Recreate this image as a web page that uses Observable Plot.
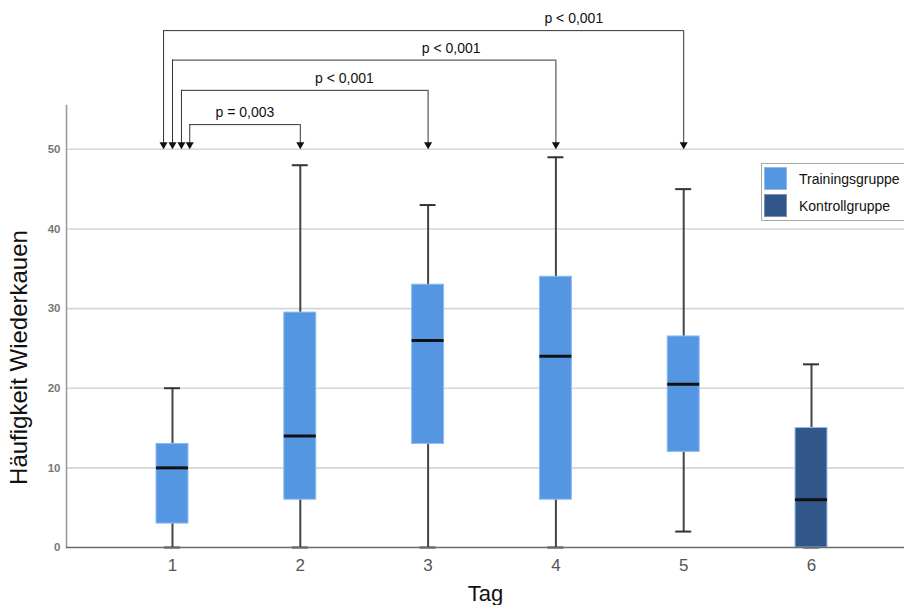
<!DOCTYPE html>
<html><head><meta charset="utf-8">
<script src="https://cdn.jsdelivr.net/npm/d3@7"></script>
<script src="https://cdn.jsdelivr.net/npm/@observablehq/plot@0.6"></script>
<style>
body{margin:0;background:#fff;font-family:"Liberation Sans",Arial,sans-serif;}
#wrap{position:relative;width:904px;height:605px;overflow:hidden;background:#fff;}
.legend{position:absolute;left:761px;top:163px;width:170px;height:58px;border:1px solid #a8a8a8;background:#fff;box-sizing:border-box;padding:3px 0 0 2px;}
.item{display:flex;align-items:center;height:23px;margin-bottom:4px;font-size:14px;color:#111;}
.sw{display:inline-block;width:23px;height:23px;box-sizing:border-box;border:1px solid rgba(255,255,255,0.35);margin-right:12px;}
</style></head>
<body><div id="wrap"></div>
<script>
// ---- data ----
const days = [1, 2, 3, 4, 5, 6];
const groups = ["Trainingsgruppe", "Trainingsgruppe", "Trainingsgruppe", "Trainingsgruppe", "Trainingsgruppe", "Kontrollgruppe"];
const whiskerLow = [0, 0, 0, 0, 2, 0];
const q1 = [3, 6, 13, 6, 12, 0];
const median = [10, 14, 26, 24, 20.5, 6];
const q3 = [13, 29.5, 33, 34, 26.5, 15];
const whiskerHigh = [20, 48, 43, 49, 45, 23];
const yTicks = [0, 10, 20, 30, 40, 50];

const groupNames = ["Trainingsgruppe", "Kontrollgruppe"];
const groupColors = ["#5596e3", "#31578a"];

// significance comparisons (from day 1 to target day)
const compTargets = [5, 4, 3, 2];
const compLabels = ["p < 0,001", "p < 0,001", "p < 0,001", "p = 0,003"];
const compStart = [0.93, 1.0, 1.07, 1.135];
const compLevel = [64.9, 61.2, 57.4, 53.1];
const compLabelX = [4.14, 3.18, 2.345, 1.567];
const arrowTipY = 50;

// ---- tables ----
const rows = days.map((d, i) => ({day: d, group: groups[i], lo: whiskerLow[i], q1: q1[i], med: median[i], q3: q3[i], hi: whiskerHigh[i]}));
const comps = compTargets.map((t, i) => ({from: compStart[i], to: t, level: compLevel[i], label: compLabels[i], lx: compLabelX[i]}));
const ends = comps.flatMap(c => [{x: c.from, level: c.level}, {x: c.to, level: c.level}]);

const halfBox = 0.125, halfCap = 0.0625;

const chart = Plot.plot({
  width: 904, height: 605,
  marginLeft: 66, marginRight: 0, marginTop: 105, marginBottom: 58,
  style: {fontFamily: "Liberation Sans, Arial, sans-serif", background: "white", overflow: "visible"},
  x: {type: "linear", domain: [0.1706, 6.7277], axis: null},
  y: {domain: [0, 55.5], axis: null},
  color: {domain: groupNames, range: groupColors},
  marks: [
    Plot.gridY(yTicks.filter(t => t > 0), {stroke: "#d6d6d6", strokeWidth: 1.6, strokeOpacity: 1}),
    Plot.axisY(yTicks, {tickSize: 0, tickPadding: 6, fontSize: 11.5, fontWeight: "bold", fill: "#777", label: null, tickFormat: d3.format("d")}),
    Plot.axisX(days, {tickSize: 0, tickPadding: 11, fontSize: 17, fill: "#555", label: null, tickFormat: d3.format("d")}),
    Plot.frame({anchor: "left", stroke: "#9c9c9c", strokeWidth: 1.6}),
    // whiskers
    Plot.ruleX(rows, {x: "day", y1: "lo", y2: "hi", stroke: "#444", strokeWidth: 2}),
    Plot.ruleY(rows, {y: "hi", x1: d => d.day - halfCap, x2: d => d.day + halfCap, stroke: "#333", strokeWidth: 2}),
    Plot.ruleY(rows, {y: "lo", x1: d => d.day - halfCap, x2: d => d.day + halfCap, stroke: "#333", strokeWidth: 2}),
    // boxes
    Plot.rect(rows, {x1: d => d.day - halfBox, x2: d => d.day + halfBox, y1: "q1", y2: "q3", fill: "group", stroke: "#8dbcf0", strokeWidth: 1}),
    Plot.ruleY(rows, {y: "med", x1: d => d.day - halfBox, x2: d => d.day + halfBox, stroke: "#111", strokeWidth: 3}),
    Plot.ruleY([0], {stroke: "#6a6a6a", strokeWidth: 1.6}),
    // significance brackets
    Plot.ruleY(comps, {y: "level", x1: "from", x2: "to", stroke: "#333", strokeWidth: 1}),
    Plot.ruleX(ends, {x: "x", y1: "level", y2: d => arrowTipY + 0.6, stroke: "#333", strokeWidth: 1}),
    Plot.dot(ends, {x: "x", y: d => arrowTipY, symbol: "triangle", rotate: 180, r: 3, fill: "#111", stroke: "none", dy: -4.6}),
    Plot.text(comps, {x: "lx", y: "level", text: "label", dy: -12, fontSize: 14, fill: "#111"}),
    // axis titles
    Plot.text(["Tag"], {text: d => d, frameAnchor: "bottom", textAnchor: "middle", lineAnchor: "middle", dy: 46, fontSize: 22, fill: "#111"}),
    Plot.text(["Häufigkeit Wiederkauen"], {text: d => d, frameAnchor: "left", textAnchor: "middle", lineAnchor: "middle", rotate: -90, dx: -47, dy: 31, fontSize: 24, fill: "#111"})
  ]
});

const wrap = document.getElementById("wrap");
wrap.appendChild(chart);

// legend
const leg = document.createElement("div");
leg.className = "legend";
groupNames.forEach((g, i) => {
  const it = document.createElement("div");
  it.className = "item";
  const sw = document.createElement("span");
  sw.className = "sw";
  sw.style.background = groupColors[i];
  it.appendChild(sw);
  it.appendChild(document.createTextNode(g));
  leg.appendChild(it);
});
wrap.appendChild(leg);
</script>
</body></html>
